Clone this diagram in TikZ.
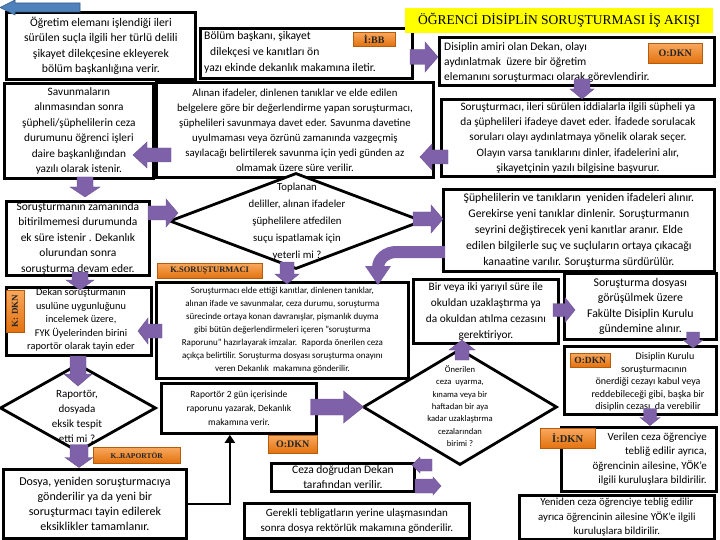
\documentclass[tikz,border=0pt]{standalone}
\usepackage{fontspec}
\setmainfont{Carlito}
\newfontfamily\serifT{Liberation Serif}
\usetikzlibrary{shapes.geometric,arrows.meta}
\definecolor{apurple}{HTML}{7F61A9}
\definecolor{aorangeL}{HTML}{F9A85E}
\definecolor{aorangeD}{HTML}{E2720F}
\definecolor{ablue}{HTML}{4F81BD}
\definecolor{ayellow}{HTML}{FFFF00}
\newcommand{\fs}[2]{\fontsize{#1}{#2}\selectfont}
\tikzset{
 box/.style={draw, line width=2.8pt, fill=white, inner sep=1pt, align=center, anchor=north west},
 lbl/.style={top color=aorangeL, bottom color=aorangeD, draw=aorangeD!80!black, line width=0.4pt, inner sep=0pt, anchor=north west, font=\serifT\bfseries\fs{10}{11}, text=black!85},
 dia/.style={diamond, draw, line width=2.8pt, fill=white, inner sep=0pt},
 txt/.style={align=center, inner sep=0pt},
 pics/barr/.style n args={4}{code={
   \fill[apurple, draw=apurple!85!black, line width=0.4pt] ({-#1/2},{-#2/2}) -- ({#1/2-#4},{-#2/2}) -- ({#1/2-#4},{-#3/2}) -- ({#1/2},0) -- ({#1/2-#4},{#3/2}) -- ({#1/2-#4},{#2/2}) -- ({-#1/2},{#2/2}) -- cycle;}},
 pics/barrblue/.style n args={4}{code={
   \fill[ablue, draw=ablue!70!black, line width=0.6pt] ({-#1/2},{-#2/2}) -- ({#1/2-#4},{-#2/2}) -- ({#1/2-#4},{-#3/2}) -- ({#1/2},0) -- ({#1/2-#4},{#3/2}) -- ({#1/2-#4},{#2/2}) -- ({-#1/2},{#2/2}) -- cycle;}},
}
\begin{document}
\begin{tikzpicture}[x=1pt,y=-1pt]
\useasboundingbox (0,0) rectangle (720,540);
\fill[white] (0,0) rectangle (720,540);

% ---- boxes ----
\node[box, minimum width=189, minimum height=67, font=\fs{11.7}{15.5}] (A) at (5,11) {Öğretim elemanı işlendiği ileri\\sürülen suçla ilgili her türlü delili\\şikayet dilekçesine ekleyerek\\bölüm başkanlığına verir.};
\node[box, minimum width=212, minimum height=50] (B) at (199,27) {};
\node[txt, anchor=west, align=left, font=\fs{11.6}{16}] (Bt) at (204,52) {Bölüm başkanı, şikayet\\\hspace*{6pt}dilekçesi ve kanıtları ön\\yazı ekinde dekanlık makamına iletir.};
\node[anchor=north west, fill=ayellow, minimum width=308, minimum height=25, inner sep=0pt, font=\serifT\fs{13.5}{15}] (title) at (405,8) {ÖĞRENCİ DİSİPLİN SORUŞTURMASI İŞ AKIŞI};
\node[box, minimum width=275, minimum height=48] (C) at (438,36) {};
\node[txt, anchor=west, align=left, font=\fs{11.5}{15}] (Ct) at (444,62) {Disiplin amiri olan Dekan, olayı\\aydınlatmak \ üzere bir öğretim\\elemanını soruşturmacı olarak görevlendirir.};
\node[box, minimum width=273, minimum height=77, font=\fs{11.3}{15.3}] (D) at (440,98) {Soruşturmacı, ileri sürülen iddialarla ilgili süpheli ya\\da şüphelileri ifadeye davet eder. İfadede sorulacak\\soruları olayı aydınlatmaya yönelik olarak seçer.\\Olayın varsa tanıklarını dinler, ifadelerini alır,\\şikayetçinin yazılı bilgisine başvurur.};
\node[box, minimum width=277, minimum height=95, font=\fs{10.8}{15}] (E) at (155,81) {Alınan ifadeler, dinlenen tanıklar ve elde edilen\\belgelere göre bir değerlendirme yapan soruşturmacı,\\şüphelileri savunmaya davet eder. Savunma davetine\\uyulmaması veya özrünü zamanında vazgeçmiş\\sayılacağı belirtilerek savunma için yedi günden az\\olmamak üzere süre verilir.};
\node[box, minimum width=149, minimum height=95, font=\fs{11.3}{15.5}] (F) at (3,82) {Savunmaların\\alınmasından sonra\\şüpheli/şüphelilerin ceza\\durumunu öğrenci işleri\\daire başkanlığından\\yazılı olarak istenir.};
\node[box, minimum width=143, minimum height=73, font=\fs{11.5}{15.5}] (G) at (5,200) {Soruşturmanın zamanında\\bitirilmemesi durumunda\\ek süre istenir . Dekanlık\\olurundan sonra\\soruşturma devam eder.};
\node[box, minimum width=145, minimum height=68] (H) at (5,286) {};
\node[txt, font=\fs{10.3}{13.5}] (Ht) at (81,320) {Dekan soruşturmanın\\usulüne uygunluğunu\\incelemek üzere,\\FYK Üyelerinden birini\\raportör olarak tayin eder};
\node[box, minimum width=252, minimum height=96, font=\fs{9}{13}] (I) at (155,281) {Soruşturmacı elde ettiği kanıtlar, dinlenen tanıklar,\\alınan ifade ve savunmalar, ceza durumu, soruşturma\\sürecinde ortaya konan davranışlar, pişmanlık duyma\\gibi bütün değerlendirmeleri içeren "soruşturma\\Raporunu" hazırlayarak imzalar. \ Raporda önerilen ceza\\açıkça belirtilir. Soruşturma dosyası soruşturma onayını\\veren Dekanlık \ makamına gönderilir.};
\node[box, minimum width=271, minimum height=82, font=\fs{11.7}{16}] (K) at (442,188) {Şüphelilerin ve tanıkların \ yeniden ifadeleri alınır.\\Gerekirse yeni tanıklar dinlenir. Soruşturmanın\\seyrini değiştirecek yeni kanıtlar aranır. Elde\\edilen bilgilerle suç ve suçluların ortaya çıkacağı\\kanaatine varılır. Soruşturma sürdürülür.};
\node[box, minimum width=145, minimum height=64, font=\fs{11.3}{16}] (L) at (412,278) {Bir veya iki yarıyıl süre ile\\okuldan uzaklaştırma ya\\da okuldan atılma cezasını\\gerektiriyor.};
\node[box, minimum width=152, minimum height=66, font=\fs{11.8}{15.5}] (M) at (563,272) {Soruşturma dosyası\\görüşülmek üzere\\Fakülte Disiplin Kurulu\\gündemine alınır.};
\node[box, minimum width=152, minimum height=68] (N) at (563,345) {};
\node[txt, font=\fs{10}{12.6}] (Nt) at (648,382) {\hspace*{34pt}Disiplin Kurulu\\\hspace*{12pt}soruşturmacının\\önerdiği cezayı kabul veya\\reddebileceği gibi, başka bir\\disiplin cezası \ da verebilir};
\node[box, minimum width=155, minimum height=64] (O) at (560,426) {};
\node[txt, anchor=east, align=right, font=\fs{11}{14.5}] (Ot) at (707,459) {Verilen ceza öğrenciye\\tebliğ edilir ayrıca,\\öğrencinin ailesine, YÖK'e\\ilgili kuruluşlara bildirilir.};
\node[box, minimum width=195, minimum height=44, font=\fs{10.8}{14.5}] (P) at (518,494) {Yeniden ceza öğrenciye tebliğ edilir\\ayrıca öğrencinin ailesine YÖK'e ilgili\\kuruluşlara bildirilir.};
\node[box, minimum width=155, minimum height=50, font=\fs{9.5}{14}] (T) at (160,382) {Raportör 2 gün içerisinde\\raporunu yazarak, Dekanlık\\makamına verir.};
\node[box, minimum width=183, minimum height=69, font=\fs{12}{15}] (S) at (2,468) {Dosya, yeniden soruşturmacıya\\gönderilir ya da yeni bir\\soruşturmacı tayin edilerek\\eksiklikler tamamlanır.};
\node[box, minimum width=143, minimum height=28, font=\fs{11.5}{15}] (Z) at (270,462) {Ceza doğrudan Dekan\\tarafından verilir.};
\node[box, minimum width=225, minimum height=35, font=\fs{11}{15}] (Y) at (243,502) {Gerekli tebligatların yerine ulaşmasından\\sonra dosya rektörlük makamına gönderilir.};

% ---- diamonds ----
\node[dia, minimum width=253, minimum height=96] (J) at (296,221) {};
\node[txt, font=\fs{10.8}{17}] (Jt) at (297,222) {Toplanan\\deliller, alınan ifadeler\\şüphelilere atfedilen\\suçu ispatlamak için\\yeterli mi ?};
\node[dia, minimum width=194, minimum height=116] (Q) at (460,407) {};
\node[txt, font=\fs{8.6}{12.3}] (Qt) at (460,406) {Önerilen\\ceza \ uyarma,\\kınama veya bir\\haftadan bir aya\\kadar uzaklaştırma\\cezalarından\\birimi ?};
\node[dia, minimum width=156, minimum height=88] (R) at (78,408) {};
\node[txt, font=\fs{11}{15}] (Rt) at (77,416) {Raportör,\\dosyada\\eksik tespit\\etti mi ?};

% ---- black connector ----
\draw[line width=2.4pt, -{Triangle[length=8pt,width=10pt]}] (S.east) -| ([xshift=-9pt]T.south);

% ---- purple block arrows ----
\pic (a1) at (424,57) {barr={28}{15}{30}{13}};
\pic[rotate=-90] (a2) at (582,89) {barr={20}{16}{24}{10}};
\pic[rotate=180] (a3) at (434,157) {barr={28}{14}{26}{12}};
\pic[rotate=180] (a4) at (152,155) {barr={38}{14}{26}{14}};
\pic[rotate=-90] (a5) at (85,187) {barr={20}{16}{30}{10}};
\pic (a6) at (163,213) {barr={30}{14}{28}{12}};
\pic[rotate=-90] (a7) at (80,281) {barr={18}{16}{28}{10}};
\pic (a8) at (428,219) {barr={30}{14}{28}{12}};
\pic[rotate=-90] (a9) at (287,273) {barr={22}{14}{24}{10}};
\draw[apurple, line width=12pt] (445,252) -- (396,252) to[out=180,in=90] (378,268);
\fill[apurple] (365,266) -- (391,266) -- (378,285) -- cycle;
\pic[rotate=180] (a11) at (150,331) {barr={24}{14}{26}{10}};
\pic[rotate=-90] (a12) at (78,371) {barr={30}{16}{28}{12}};
\pic[rotate=-90] (a13) at (79,456) {barr={23}{18}{28}{10}};
\pic (a14) at (337,407) {barr={53}{16}{32}{20}};
\pic[rotate=90] (a15) at (462,350) {barr={20}{14}{26}{10}};
\pic (a16) at (564,310) {barr={22}{13}{25}{10}};
\pic[rotate=-90] (a17) at (693,340) {barr={16}{13}{20}{8}};
\pic[rotate=-90] (a18) at (650,417) {barr={17}{13}{20}{8}};
\pic[rotate=180] (a19) at (422,465) {barr={20}{12}{16}{8}};
\pic (a20) at (428,486) {barr={26}{14}{18}{8}};
\pic[rotate=180] (a0) at (40,7.5) {barrblue={80}{9}{15}{15}};

% ---- orange labels ----
\node[lbl, minimum width=42, minimum height=14] (lBB) at (353,32) {İ:BB};
\node[lbl, minimum width=54, minimum height=20] (lC) at (648,43) {O:DKN};
\node[lbl, minimum width=105, minimum height=15, font=\serifT\bfseries\fs{8.5}{9}] (lS) at (157,263) {K.SORUŞTURMACI};
\node[lbl, minimum width=87, minimum height=16, font=\serifT\bfseries\fs{7.5}{8}] (lR) at (93,447) {K..RAPORTÖR};
\node[lbl, minimum width=49, minimum height=18] (lT) at (268,435) {O:DKN};
\node[lbl, minimum width=40, minimum height=14, font=\serifT\bfseries\fs{9.5}{10}] (lN) at (570,353) {O:DKN};
\node[lbl, minimum width=55, minimum height=20, font=\serifT\bfseries\fs{10.5}{11}] (lO) at (540,428) {İ:DKN};
\node[lbl, anchor=center, rotate=90, minimum width=42, minimum height=18, font=\serifT\bfseries\fs{9}{10}] (lH) at (15,311) {K: DKN};
\end{tikzpicture}
\end{document}
